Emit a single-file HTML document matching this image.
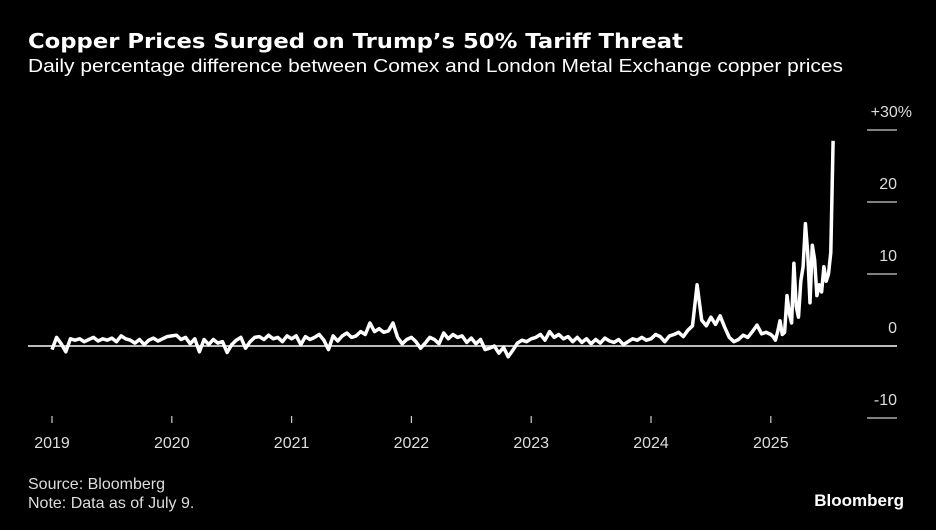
<!DOCTYPE html>
<html><head><meta charset="utf-8"><style>
html,body{margin:0;padding:0;background:#000;}
svg{display:block;font-family:"Liberation Sans",sans-serif;}
</style></head><body>
<svg id="chart" width="936" height="530" viewBox="0 0 936 530" xmlns="http://www.w3.org/2000/svg">
<rect width="936" height="530" fill="#000"/>
<text x="28" y="48" fill="#fff" font-family="DejaVu Sans, sans-serif" font-weight="bold" font-size="20" textLength="655" lengthAdjust="spacingAndGlyphs">Copper Prices Surged on Trump’s 50% Tariff Threat</text>
<text x="28" y="72" fill="#fff" font-size="18" textLength="815" lengthAdjust="spacingAndGlyphs">Daily percentage difference between Comex and London Metal Exchange copper prices</text>
<g id="axes"></g>
<path id="line" fill="none" stroke="#fff" stroke-width="3.5" stroke-linejoin="round"/>
<text x="28" y="489" fill="#ddd" font-size="16">Source: Bloomberg</text>
<text x="28" y="508" fill="#ddd" font-size="16">Note: Data as of July 9.</text>
<text x="904" y="506" fill="#fff" font-weight="bold" font-size="17" text-anchor="end">Bloomberg</text>
</svg>
<script>
const yTicks=[30,20,10,0,-10];
const yTickLabels=["+30%","20","10","0","-10"];
const xYears=[2019,2020,2021,2022,2023,2024,2025];
const startYear=2019.0;
const values2019_2023=[
-0.5,1.2,0.3,-0.8,1.0,0.8,1.0,0.6,0.9,1.2,0.7,1.0,0.8,1.1,0.6,1.4,1.0,0.8,0.4,0.9,0.2,0.8,1.1,0.7,1.0,1.3,
1.4,1.5,0.9,1.2,0.3,1.0,-0.8,0.9,0.2,0.9,0.4,0.6,-0.9,0.2,0.8,1.2,-0.3,0.6,1.2,1.3,0.9,1.5,1.0,1.2,0.6,1.4,
1.0,1.4,0.2,1.3,0.9,1.2,1.6,0.8,-0.5,1.4,0.7,1.4,1.8,1.2,1.4,2.0,1.6,3.2,2.0,2.4,1.9,2.1,3.2,1.2,0.3,0.9,
1.2,0.6,-0.3,0.4,1.2,0.9,0.3,1.8,1.0,1.6,1.2,1.4,0.5,1.1,0.3,0.9,-0.5,-0.3,0.0,-1.0,-0.2,-1.5,-0.6,0.4,0.8,0.6,
1.0,1.2,1.6,0.8,2.0,1.2,1.6,1.0,1.3,0.6,1.2,0.5,1.0,0.3,0.9,0.4,1.1,0.7,0.5,0.9,0.2,0.6,1.0,0.8,1.2,0.8
];
const values2024_2025=[
1.0,1.6,1.3,0.6,1.4,1.6,1.9,1.3,2.2,2.8,8.5,3.6,2.8,4.0,3.0,4.2,2.6,1.2,0.6,0.9,1.5,1.2,2.0,2.9,1.7,1.9,
1.6,1.3,0.8,2.0,3.5,1.6,1.9,7.0,4.5,3.2,11.5,5.5,4.0,9.0,11.0,17.0,13.0,6.0,14.0,12.0,7.0,8.5,7.5,11.0,9.0,10.0,13.0,28.5
];
const stepEarly=1/26, stepLate=1/52;
function xScale(t){return 52+(t-2019)*119.8;}
function yScale(v){return 346-v*7.2;}
const ns="http://www.w3.org/2000/svg";
const axes=document.getElementById('axes');
function mk(tag,attrs){const e=document.createElementNS(ns,tag);for(const k in attrs)e.setAttribute(k,attrs[k]);axes.appendChild(e);return e;}
yTicks.forEach((v,i)=>{
 const y=yScale(v);
 const l=mk('line',{x1:v===0?28:867,x2:897,y1:y,y2:y,stroke:v===0?'#bbb':'#aaa','stroke-width':v===0?2:1.5});
 
 
 const t=mk('text',{x:i===0?912:897,y:y-13,fill:'#ddd','font-size':16,'text-anchor':'end'});
 
 
 t.textContent=yTickLabels[i];
});
xYears.forEach(yr=>{
 const x=xScale(yr);
 const l=mk('line',{x1:x,x2:x,y1:416,y2:423,stroke:'#ccc','stroke-width':1.2});
 
 
 const t=mk('text',{x:x,y:448,fill:'#ddd','font-size':16,'text-anchor':'middle'});
 
 
 t.textContent=yr;
});
let pts=[];
values2019_2023.forEach((v,i)=>pts.push([xScale(startYear+i*stepEarly),yScale(v)]));
const n2=values2024_2025.length;
values2024_2025.forEach((v,i)=>{
 const t=2024+ (i<26? i*stepEarly : 1+(i-26)*((0.52)/(n2-27)));
 pts.push([xScale(t),yScale(v)]);
});
document.getElementById('line').setAttribute('d',pts.map((p,i)=>(i?'L':'M')+p[0].toFixed(1)+' '+p[1].toFixed(1)).join(''));
</script>
</body></html>
